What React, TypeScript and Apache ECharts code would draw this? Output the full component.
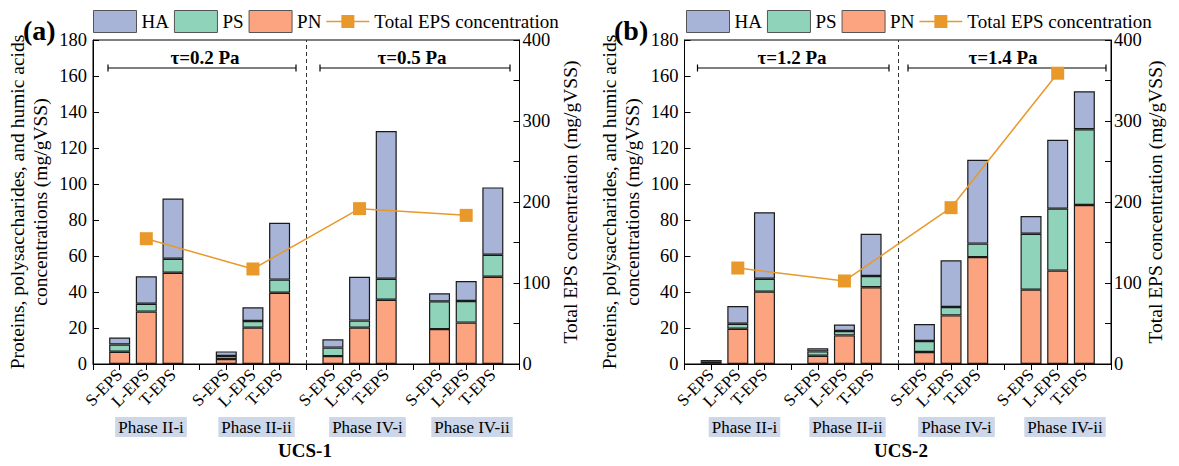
import React, { useEffect, useRef } from 'react';
import * as echarts from 'echarts';

const FONT = 'Liberation Serif';

// x categories (positions 0..16; 0, 4, 8, 12, 16 are empty gaps)
const phases = ['Phase II-i', 'Phase II-ii', 'Phase IV-i', 'Phase IV-ii'];
const xCategories = [
  '', 'S-EPS', 'L-EPS', 'T-EPS',
  '', 'S-EPS', 'L-EPS', 'T-EPS',
  '', 'S-EPS', 'L-EPS', 'T-EPS',
  '', 'S-EPS', 'L-EPS', 'T-EPS', '',
];

// UCS-1 (order: phase II-i S/L/T, II-ii S/L/T, IV-i S/L/T, IV-ii S/L/T)
const pn1 = [6.8, 29.1, 50.7, 2.8, 20.2, 39.6, 4.4, 20.2, 35.7, 19.4, 23.0, 48.5];
const ps1 = [4.0, 4.4, 7.8, 1.7, 3.7, 7.3, 4.7, 3.9, 11.7, 15.4, 12.0, 12.2];
const ha1 = [3.9, 15.2, 33.4, 2.5, 7.6, 31.6, 4.6, 24.4, 82.0, 4.5, 11.1, 37.4];
const total1 = [154.7, 117.3, 191.8, 183.5];

// UCS-2
const pn2 = [0.3, 19.6, 40.2, 4.6, 15.9, 42.6, 6.7, 27.0, 59.4, 41.3, 51.9, 88.3];
const ps2 = [1.2, 2.8, 7.2, 2.4, 2.4, 6.3, 6.1, 4.7, 7.5, 31.1, 34.4, 42.1];
const ha2 = [0.7, 9.8, 36.9, 1.7, 3.6, 23.5, 9.4, 25.9, 46.6, 9.8, 38.3, 21.1];
const total2 = [118.5, 102.5, 193.0, 359.0];

const tau1 = ['τ=0.2 Pa', 'τ=0.5 Pa'];
const tau2 = ['τ=1.2 Pa', 'τ=1.4 Pa'];
const panelLetters = ['(a)', '(b)'];
const groupNames = ['UCS-1', 'UCS-2'];

const leftTicks = { min: 0, max: 180, interval: 20 };
const rightTicks = { min: 0, max: 400, interval: 50, labelStep: 100 };

const COLORS = { HA: '#a7b4d8', PS: '#8fd3bb', PN: '#fca47f', line: '#e8992a' };

// legend icon for line series: line with a small square in the middle
const LINE_ICON =
  'path://M0,0 M43,22 M0,10.3 L15,10.3 L15,11.7 L0,11.7 Z M15,4.5 L28,4.5 L28,17.5 L15,17.5 Z M28,10.3 L43,10.3 L43,11.7 L28,11.7 Z';

function expandBars(vals: number[]) {
  const out: (number | null)[] = new Array(xCategories.length).fill(null);
  vals.forEach((v, i) => {
    out[1 + Math.floor(i / 3) * 4 + (i % 3)] = v;
  });
  return out;
}
function expandLine(vals: number[]) {
  const out: (number | null)[] = new Array(xCategories.length).fill(null);
  vals.forEach((v, i) => {
    out[2 + i * 4] = v;
  });
  return out;
}

export default function App() {
  const ref = useRef<HTMLDivElement>(null);
  useEffect(() => {
    document.body.style.margin = '0';
    if (!ref.current) return;
    const chart = echarts.init(ref.current, undefined, { renderer: 'svg' });

    const grids = [
      { left: 93, top: 40, width: 426.5, height: 324 },
      { left: 684.5, top: 40, width: 426.5, height: 324 },
    ];
    const rightGaps = [41, 30];
    const panels = [
      { pn: pn1, ps: ps1, ha: ha1, total: total1 },
      { pn: pn2, ps: ps2, ha: ha2, total: total2 },
    ];

    const xAxis: any[] = [];
    const yAxis: any[] = [];
    const series: any[] = [];
    const legend: any[] = [];

    panels.forEach((pd, p) => {
      xAxis.push({
        type: 'category',
        gridIndex: p,
        data: xCategories,
        boundaryGap: false,
        axisLine: { lineStyle: { color: '#000', width: 1 } },
        axisTick: { show: true, interval: 0, length: 6, lineStyle: { color: '#000' } },
        axisLabel: { interval: 0, rotate: 45, fontSize: 17, color: '#000', fontFamily: FONT, margin: 8 },
        splitLine: { show: false },
      });
      yAxis.push({
        type: 'value',
        gridIndex: p,
        position: 'left',
        min: leftTicks.min,
        max: leftTicks.max,
        interval: leftTicks.interval,
        axisLine: { show: true, lineStyle: { color: '#000' } },
        axisTick: { show: true, inside: true, length: 6, lineStyle: { color: '#000' } },
        axisLabel: { fontSize: 18.5, color: '#000', fontFamily: FONT, margin: 6 },
        splitLine: { show: false },
        name: 'Proteins, polysaccharides, and humic acids\nconcentrations (mg/gVSS)',
        nameLocation: 'middle',
        nameGap: 41,
        nameTextStyle: { fontSize: 19.5, color: '#000', fontFamily: FONT, lineHeight: 23 },
      });
      yAxis.push({
        type: 'value',
        gridIndex: p,
        position: 'right',
        min: rightTicks.min,
        max: rightTicks.max,
        interval: rightTicks.interval,
        axisLine: { show: true, lineStyle: { color: '#000' } },
        axisTick: { show: true, inside: true, length: 6, lineStyle: { color: '#000' } },
        axisLabel: {
          fontSize: 18.5,
          color: '#000',
          fontFamily: FONT,
          margin: 3,
          formatter: (v: number) => (v % rightTicks.labelStep === 0 ? String(v) : ''),
        },
        splitLine: { show: false },
        name: 'Total EPS concentration (mg/gVSS)',
        nameLocation: 'middle',
        nameGap: rightGaps[p],
        nameTextStyle: { fontSize: 19.5, color: '#000', fontFamily: FONT },
      });

      const barCommon = {
        type: 'bar',
        xAxisIndex: p,
        yAxisIndex: p * 2,
        stack: 'eps' + p,
        barWidth: 21,
      };
      series.push({
        ...barCommon,
        name: 'PN',
        data: expandBars(pd.pn),
        itemStyle: { color: COLORS.PN, borderColor: '#1a1a1a', borderWidth: 1.2 },
        markLine: {
          silent: true,
          symbol: ['none', 'none'],
          label: { show: false },
          lineStyle: { type: [4, 3], color: '#333', width: 1 },
          data: [{ xAxis: 8 }],
        },
      });
      series.push({
        ...barCommon,
        name: 'PS',
        data: expandBars(pd.ps),
        itemStyle: { color: COLORS.PS, borderColor: '#1a1a1a', borderWidth: 1.2 },
      });
      series.push({
        ...barCommon,
        name: 'HA',
        data: expandBars(pd.ha),
        itemStyle: { color: COLORS.HA, borderColor: '#1a1a1a', borderWidth: 1.2 },
      });
      series.push({
        type: 'line',
        name: 'Total EPS concentration',
        xAxisIndex: p,
        yAxisIndex: p * 2 + 1,
        data: expandLine(pd.total),
        connectNulls: true,
        symbol: 'rect',
        symbolSize: 13,
        z: 5,
        lineStyle: { color: COLORS.line, width: 1.5 },
        itemStyle: { color: COLORS.line },
      });

      legend.push({
        left: p === 0 ? 93 : 686,
        top: 10,
        padding: 0,
        itemWidth: 43,
        itemHeight: 22,
        itemGap: 5,
        textStyle: { fontSize: 19, color: '#000', fontFamily: FONT },
        data: [
          { name: 'HA', icon: 'rect', itemStyle: { borderColor: '#555', borderWidth: 1 } },
          { name: 'PS', icon: 'rect', itemStyle: { borderColor: '#555', borderWidth: 1 } },
          { name: 'PN', icon: 'rect', itemStyle: { borderColor: '#555', borderWidth: 1 } },
          { name: 'Total EPS concentration', icon: LINE_ICON, itemStyle: { color: COLORS.line, borderWidth: 0 } },
        ],
      });
    });

    // annotation positions (pixels)
    const ann = [
      {
        letterX: 23,
        tauX: [205, 412],
        brackets: [[108, 296], [320, 510]],
        phaseX: [151, 256.5, 367.5, 472],
        groupX: 305,
        tau: tau1,
      },
      {
        letterX: 614,
        tauX: [792, 1003],
        brackets: [[697.5, 889], [908, 1106]],
        phaseX: [744.5, 847.5, 956.5, 1065],
        groupX: 901,
        tau: tau2,
      },
    ];
    const graphic: any[] = [];
    ann.forEach((a, p) => {
      graphic.push({
        type: 'text',
        x: a.letterX,
        y: 30,
        style: { text: panelLetters[p], fontSize: 28, fontWeight: 'bold', fontFamily: FONT, fill: '#000', align: 'left', verticalAlign: 'middle' },
      });
      a.tau.forEach((t, i) => {
        graphic.push({
          type: 'text',
          x: a.tauX[i],
          y: 57,
          style: { text: t, fontSize: 19, fontWeight: 'bold', fontFamily: FONT, fill: '#000', align: 'center', verticalAlign: 'middle' },
        });
        const [x1, x2] = a.brackets[i];
        graphic.push({ type: 'line', shape: { x1, y1: 68, x2, y2: 68 }, style: { stroke: '#000', lineWidth: 1.2 } });
        graphic.push({ type: 'line', shape: { x1, y1: 64.5, x2: x1, y2: 71.5 }, style: { stroke: '#000', lineWidth: 1.2 } });
        graphic.push({ type: 'line', shape: { x1: x2, y1: 64.5, x2, y2: 71.5 }, style: { stroke: '#000', lineWidth: 1.2 } });
      });
      phases.forEach((ph, i) => {
        graphic.push({
          type: 'text',
          x: a.phaseX[i],
          y: 427,
          style: {
            text: ph,
            fontSize: 17,
            fontFamily: FONT,
            fill: '#000',
            align: 'center',
            verticalAlign: 'middle',
            backgroundColor: '#cdd7ea',
            padding: [2, 3, 1, 3],
            lineHeight: 17,
          },
        });
      });
      graphic.push({
        type: 'text',
        x: a.groupX,
        y: 450,
        style: { text: groupNames[p], fontSize: 19, fontWeight: 'bold', fontFamily: FONT, fill: '#000', align: 'center', verticalAlign: 'middle' },
      });
    });

    chart.setOption({
      animation: false,
      backgroundColor: '#fff',
      textStyle: { fontFamily: FONT },
      grid: grids.map((g) => ({ ...g, show: true, borderColor: '#000', borderWidth: 1, backgroundColor: 'transparent' })),
      legend,
      xAxis,
      yAxis,
      series,
      graphic,
    });
    return () => chart.dispose();
  }, []);
  return <div ref={ref} style={{ width: 1179, height: 466 }} />;
}
